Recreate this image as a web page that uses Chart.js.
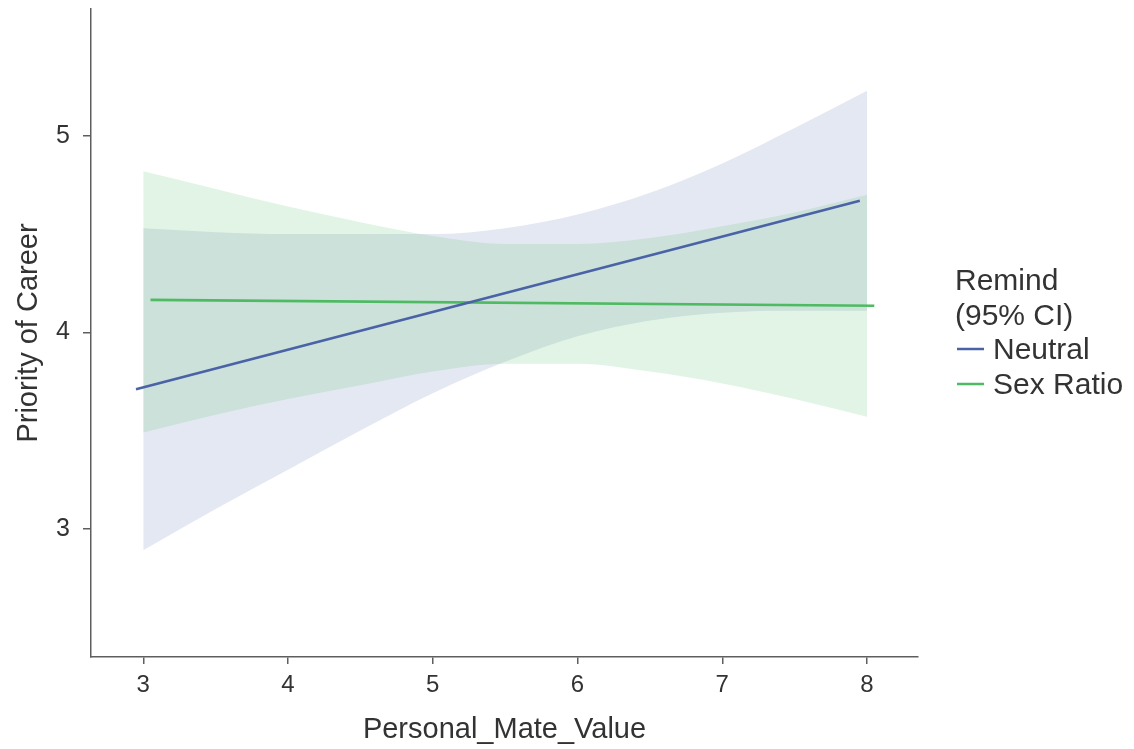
<!DOCTYPE html>
<html>
<head>
<meta charset="utf-8">
<script src="https://cdn.jsdelivr.net/npm/chart.js@4/dist/chart.umd.min.js"></script>
<style>
  html, body { margin: 0; padding: 0; background: #ffffff; }
  #wrap { width: 1134px; height: 749px; }
</style>
</head>
<body>
<div id="wrap"><canvas id="chart" width="1134" height="749"></canvas></div>
<script>
// Grid of Personal_Mate_Value where the 95% confidence bands are evaluated
const bandX = [3, 3.5, 4, 4.5, 5, 5.5, 6, 6.5, 7, 7.5, 8];

// Neutral reminder: confidence band
const neutralUpper = [4.53, 4.51, 4.50, 4.50, 4.50, 4.53, 4.60, 4.71, 4.86, 5.04, 5.23];
const neutralLower = [2.89, 3.10, 3.30, 3.50, 3.69, 3.85, 3.98, 4.06, 4.10, 4.11, 4.11];

// Sex Ratio reminder: confidence band
const sexUpper = [4.82, 4.73, 4.64, 4.56, 4.49, 4.45, 4.45, 4.48, 4.54, 4.61, 4.70];
const sexLower = [3.49, 3.58, 3.66, 3.73, 3.80, 3.84, 3.84, 3.80, 3.74, 3.66, 3.57];

// Fitted lines (slightly dodged along x)
const neutralLineX = [2.95, 7.95];
const neutralLineY = [3.71, 4.67];
const sexLineX = [3.05, 8.05];
const sexLineY = [4.165, 4.135];

// Axis ticks and labels
const xTicks = [3, 4, 5, 6, 7, 8];
const yTicks = [3, 4, 5];
const legendTitle = ['Remind', '(95% CI)'];
const groupNames = ['Neutral', 'Sex Ratio'];

const neutralColor = 'rgb(74, 98, 166)';
const sexColor = 'rgb(78, 186, 98)';
const neutralFill = 'rgba(72, 99, 170, 0.15)';
const sexFill = 'rgba(76, 190, 100, 0.17)';
const axisColor = '#5e5e5e';
const textColor = '#333333';
const fontFamily = '"Liberation Sans", Arial, sans-serif';

const pts = (xs, ys) => xs.map((x, i) => ({ x: x, y: ys[i] }));

const lineBase = { pointRadius: 0, pointHoverRadius: 0, tension: 0 };
const edge = { borderWidth: 0, borderColor: 'rgba(0,0,0,0)', cubicInterpolationMode: 'monotone' };

// Fills are painted from the last dataset to the first, so the green band lands on top
const datasets = [
  { ...lineBase, label: groupNames[0], data: pts(neutralLineX, neutralLineY),
    borderColor: neutralColor, borderWidth: 2.6, fill: false },
  { ...lineBase, label: groupNames[1], data: pts(sexLineX, sexLineY),
    borderColor: sexColor, borderWidth: 2.6, fill: false },
  { ...lineBase, ...edge, label: 'Sex Ratio upper', data: pts(bandX, sexUpper),
    backgroundColor: sexFill, fill: '+1' },
  { ...lineBase, ...edge, label: 'Sex Ratio lower', data: pts(bandX, sexLower), fill: false },
  { ...lineBase, ...edge, label: 'Neutral upper', data: pts(bandX, neutralUpper),
    backgroundColor: neutralFill, fill: '+1' },
  { ...lineBase, ...edge, label: 'Neutral lower', data: pts(bandX, neutralLower), fill: false }
];

// Two-line legend title plus a line swatch for each group, right of the plot
const sideLegend = {
  id: 'sideLegend',
  afterDraw(chart) {
    const ctx = chart.ctx;
    const x0 = chart.chartArea.right + 37;
    ctx.save();
    ctx.font = '30px ' + fontFamily;
    ctx.fillStyle = textColor;
    ctx.textBaseline = 'middle';
    ctx.textAlign = 'left';
    ctx.fillText(legendTitle[0], x0, 282);
    ctx.fillText(legendTitle[1], x0, 317);
    const colors = [neutralColor, sexColor];
    const rows = [351, 386];
    groupNames.forEach((name, i) => {
      ctx.strokeStyle = colors[i];
      ctx.lineWidth = 2.5;
      ctx.beginPath();
      ctx.moveTo(x0 + 2, rows[i] - 2);
      ctx.lineTo(x0 + 29, rows[i] - 2);
      ctx.stroke();
      ctx.fillStyle = textColor;
      ctx.fillText(name, x0 + 38, rows[i]);
    });
    ctx.restore();
  }
};

new Chart(document.getElementById('chart'), {
  type: 'line',
  data: { datasets },
  plugins: [sideLegend],
  options: {
    responsive: false,
    animation: false,
    events: [],
    layout: { padding: { top: 9, right: 216, left: 0, bottom: 0 } },
    plugins: {
      legend: { display: false },
      tooltip: { enabled: false },
      filler: { drawTime: 'beforeDatasetsDraw' }
    },
    scales: {
      x: {
        type: 'linear',
        min: 2.639,
        max: 8.352,
        afterFit(scale) { scale.height = 92; scale.paddingLeft = 0; scale.paddingRight = 0; },
        afterBuildTicks(scale) { scale.ticks = xTicks.map(v => ({ value: v })); },
        ticks: {
          includeBounds: false,
          padding: 7,
          color: textColor,
          font: { family: fontFamily, size: 24 }
        },
        grid: { drawOnChartArea: false, drawTicks: true, tickLength: 7, tickColor: axisColor, lineWidth: 1.5 },
        border: { display: true, color: axisColor, width: 1.5 },
        title: {
          display: true,
          text: 'Personal_Mate_Value',
          color: textColor,
          font: { family: fontFamily, size: 29 },
          padding: { top: 0, bottom: 2 }
        }
      },
      y: {
        type: 'linear',
        min: 2.347,
        max: 5.646,
        afterFit(scale) { scale.width = 91; scale.paddingTop = 0; scale.paddingBottom = 0; },
        afterBuildTicks(scale) { scale.ticks = yTicks.map(v => ({ value: v })); },
        ticks: {
          includeBounds: false,
          padding: 13,
          color: textColor,
          font: { family: fontFamily, size: 25 }
        },
        grid: { drawOnChartArea: false, drawTicks: true, tickLength: 8, tickColor: axisColor, lineWidth: 1.5 },
        border: { display: true, color: axisColor, width: 1.5 },
        title: {
          display: true,
          text: 'Priority of Career',
          color: textColor,
          font: { family: fontFamily, size: 29 },
          padding: { top: 12, bottom: 0 }
        }
      }
    }
  }
});
</script>
</body>
</html>
